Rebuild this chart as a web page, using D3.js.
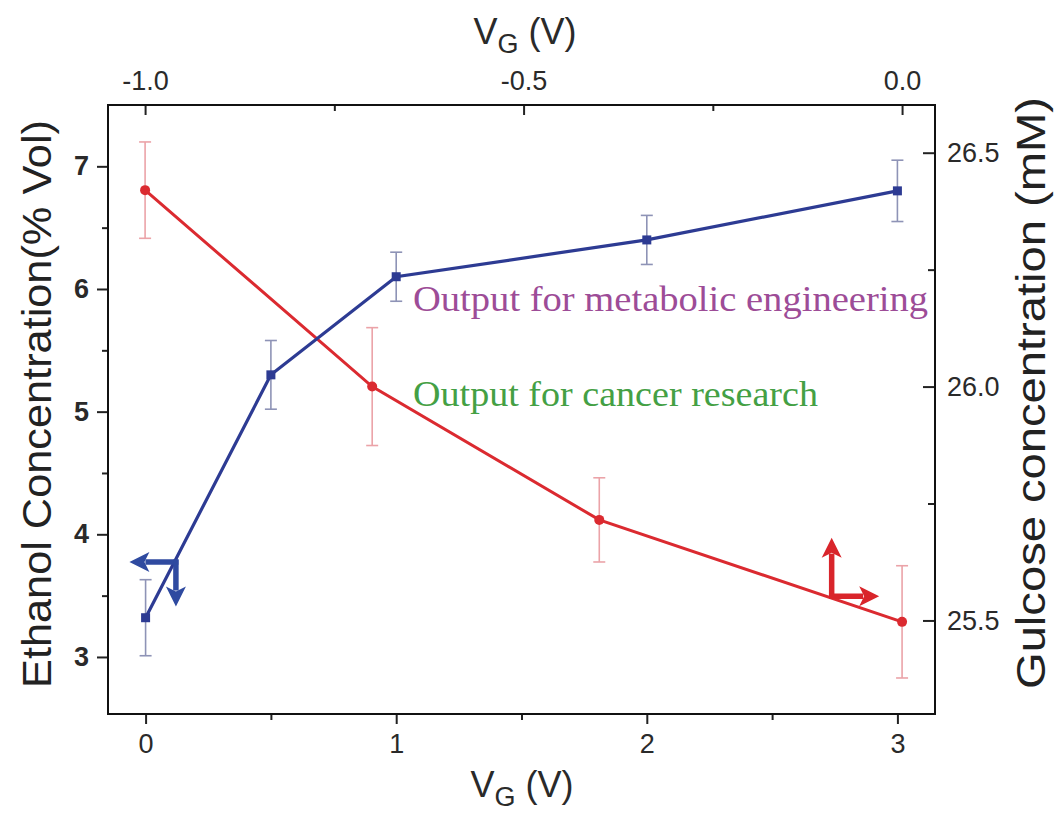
<!DOCTYPE html>
<html>
<head>
<meta charset="utf-8">
<script src="https://cdn.jsdelivr.net/npm/d3@7"></script>
<style>
  html, body { margin: 0; padding: 0; background: #fff; }
  svg { display: block; font-family: "Liberation Sans", Arial, sans-serif; }
</style>
</head>
<body>
<svg id="chart" width="1054" height="815"></svg>
<script>
// Ethanol output (left axis) vs gate voltage on the bottom axis
const vgBottom = [0, 0.5, 1, 2, 3];
const ethanol = [3.32, 5.3, 6.1, 6.4, 6.8];
const ethanolErr = [0.31, 0.28, 0.2, 0.2, 0.25];

// Glucose concentration (right axis) vs gate voltage on the top axis
const vgTop = [-1.0, -0.7, -0.4, 0.0];
const glucose = [26.42, 26.0, 25.715, 25.497];
const glucoseErr = [0.103, 0.126, 0.09, 0.12];

// Tick values and labels
const bottomTicks = [0, 1, 2, 3];
const bottomMinor = [0.5, 1.5, 2.5];
const topTicks = [-1.0, -0.5, 0.0];
const topTickLabels = ["-1.0", "-0.5", "0.0"];
const topMinor = [-0.75, -0.25];
const leftTicks = [3, 4, 5, 6, 7];
const leftMinor = [3.5, 4.5, 5.5, 6.5];
const rightTicks = [25.5, 26.0, 26.5];
const rightMinor = [25.75, 26.25];

const annotations = ["Output for metabolic engineering", "Output for cancer research"];

const svg = d3.select("#chart");
const L = 108, R = 935, T = 105, B = 714;

const xB = d3.scaleLinear().domain([-0.15, 3.15]).range([L, R]);
const xT = d3.scaleLinear().domain([-1.049, 0.0435]).range([L, R]);
const yL = d3.scaleLinear().domain([2.535, 7.5]).range([B, T]);
const yR = d3.scaleLinear().domain([25.3, 26.602]).range([B, T]);

const tickColor = "#222";
const labelColor = "#2a2a2a";
const tickFont = 27;

function styleAxis(g) {
  g.select(".domain").remove();
  g.selectAll(".tick line").attr("stroke", tickColor).attr("stroke-width", 2);
  g.selectAll(".tick text").attr("fill", labelColor).attr("font-size", tickFont)
    .attr("font-family", "'Liberation Sans', Arial, sans-serif");
}

// bottom axis
svg.append("g").attr("transform", `translate(0,${B})`)
  .call(d3.axisBottom(xB).tickValues(bottomTicks).tickFormat(d3.format("d")).tickSize(10).tickPadding(10))
  .call(styleAxis);
svg.append("g").attr("transform", `translate(0,${B})`)
  .call(d3.axisBottom(xB).tickValues(bottomMinor).tickFormat("").tickSize(6))
  .call(styleAxis);

// top axis (ticks inward)
svg.append("g").attr("transform", `translate(0,${T})`)
  .call(d3.axisTop(xT).tickValues(topTicks).tickFormat((d, i) => topTickLabels[i])
    .tickSizeInner(-10).tickSizeOuter(0).tickPadding(15))
  .call(styleAxis);
svg.append("g").attr("transform", `translate(0,${T})`)
  .call(d3.axisTop(xT).tickValues(topMinor).tickFormat("").tickSizeInner(-6).tickSizeOuter(0))
  .call(styleAxis);

// left axis
svg.append("g").attr("transform", `translate(${L},0)`)
  .call(d3.axisLeft(yL).tickValues(leftTicks).tickFormat(d3.format("d")).tickSize(11).tickPadding(8))
  .call(styleAxis)
  .call(g => g.selectAll(".tick text").attr("font-weight", "bold"));
svg.append("g").attr("transform", `translate(${L},0)`)
  .call(d3.axisLeft(yL).tickValues(leftMinor).tickFormat("").tickSize(6))
  .call(styleAxis);

// right axis (ticks inward)
svg.append("g").attr("transform", `translate(${R},0)`)
  .call(d3.axisRight(yR).tickValues(rightTicks).tickFormat(d3.format(".1f")).tickSizeInner(-12).tickSizeOuter(0).tickPadding(12))
  .call(styleAxis);
svg.append("g").attr("transform", `translate(${R},0)`)
  .call(d3.axisRight(yR).tickValues(rightMinor).tickFormat("").tickSizeInner(-7).tickSizeOuter(0))
  .call(styleAxis);

// frame
svg.append("rect").attr("x", L).attr("y", T).attr("width", R - L).attr("height", B - T)
  .attr("fill", "none").attr("stroke", "#111").attr("stroke-width", 2);

// axis titles
function vgTitle(x, y) {
  const t = svg.append("text").attr("x", x).attr("y", y).attr("text-anchor", "middle")
    .attr("font-size", 36).attr("fill", labelColor);
  t.append("tspan").text("V");
  t.append("tspan").attr("font-size", 27).attr("dy", 9).text("G");
  t.append("tspan").attr("dy", -9).text(" (V)");
}
vgTitle(525, 44);
vgTitle(522, 797);

svg.append("text").attr("transform", "translate(51,404) rotate(-90)")
  .attr("text-anchor", "middle").attr("font-size", 41).attr("fill", "#222")
  .attr("textLength", 568).attr("lengthAdjust", "spacingAndGlyphs")
  .text("Ethanol Concentration(% Vol)");

svg.append("text").attr("transform", "translate(1045,393) rotate(-90)")
  .attr("text-anchor", "middle").attr("font-size", 40).attr("fill", "#222")
  .attr("textLength", 592).attr("lengthAdjust", "spacingAndGlyphs")
  .text("Gulcose concentration (mM)");

// error bars
const cap = 6;
function errorBars(xs, ys, es, xs_, ys_, color) {
  const g = svg.append("g").attr("stroke", color).attr("stroke-width", 1.6).attr("fill", "none");
  xs.forEach((xv, i) => {
    const x = xs_(xv), y1 = ys_(ys[i] + es[i]), y2 = ys_(ys[i] - es[i]);
    g.append("line").attr("x1", x).attr("x2", x).attr("y1", y1).attr("y2", y2);
    g.append("line").attr("x1", x - cap).attr("x2", x + cap).attr("y1", y1).attr("y2", y1);
    g.append("line").attr("x1", x - cap).attr("x2", x + cap).attr("y1", y2).attr("y2", y2);
  });
}
errorBars(vgTop, glucose, glucoseErr, xT, yR, "#eba3a8");
errorBars(vgBottom, ethanol, ethanolErr, xB, yL, "#8e93b6");

// glucose curve
const redC = "#db2a30", blueC = "#2d3b93";
svg.append("path")
  .attr("d", d3.line().x((d, i) => xT(vgTop[i])).y(d => yR(d))(glucose))
  .attr("fill", "none").attr("stroke", redC).attr("stroke-width", 3);
svg.append("g").selectAll("circle").data(glucose).join("circle")
  .attr("cx", (d, i) => xT(vgTop[i])).attr("cy", d => yR(d)).attr("r", 5).attr("fill", redC);

// ethanol curve
svg.append("path")
  .attr("d", d3.line().x((d, i) => xB(vgBottom[i])).y(d => yL(d))(ethanol))
  .attr("fill", "none").attr("stroke", blueC).attr("stroke-width", 3.2);
svg.append("g").selectAll("rect").data(ethanol).join("rect")
  .attr("x", (d, i) => xB(vgBottom[i]) - 4.5).attr("y", d => yL(d) - 4.5)
  .attr("width", 9).attr("height", 9).attr("fill", blueC);

// axis-indicator arrows
function arrow(x0, y0, dx, dy, color) {
  const len = Math.hypot(dx, dy), ux = dx / len, uy = dy / len;
  const head = 20, hw = 10;
  const bx = x0 + ux * (len - head), by = y0 + uy * (len - head);
  svg.append("line").attr("x1", x0).attr("y1", y0).attr("x2", bx + ux * 4).attr("y2", by + uy * 4)
    .attr("stroke", color).attr("stroke-width", 5.5);
  svg.append("path")
    .attr("d", `M${x0 + dx},${y0 + dy}L${bx - uy * hw},${by + ux * hw}L${bx + ux * 5},${by + uy * 5}L${bx + uy * hw},${by - ux * hw}Z`)
    .attr("fill", color);
}
const bluePivot = [xB(0.121), yL(3.774)];
arrow(bluePivot[0] + 2.5, bluePivot[1], -49, 0, "#2f4aa0");
arrow(bluePivot[0], bluePivot[1] - 2.5, 0, 47, "#2f4aa0");
const redPivot = [xT(-0.093), yR(25.552)];
arrow(redPivot[0], redPivot[1] + 2.5, 0, -61, "#d9252b");
arrow(redPivot[0] - 2.5, redPivot[1], 50, 0, "#d9252b");

// output annotations
svg.append("text").attr("x", 413).attr("y", 311)
  .attr("font-family", "'Liberation Serif', 'Times New Roman', serif").attr("font-size", 35)
  .attr("fill", "#9d4c97").attr("textLength", 515).attr("lengthAdjust", "spacingAndGlyphs")
  .text(annotations[0]);
svg.append("text").attr("x", 413).attr("y", 406)
  .attr("font-family", "'Liberation Serif', 'Times New Roman', serif").attr("font-size", 35)
  .attr("fill", "#44a044").attr("textLength", 405).attr("lengthAdjust", "spacingAndGlyphs")
  .text(annotations[1]);
</script>
</body>
</html>
